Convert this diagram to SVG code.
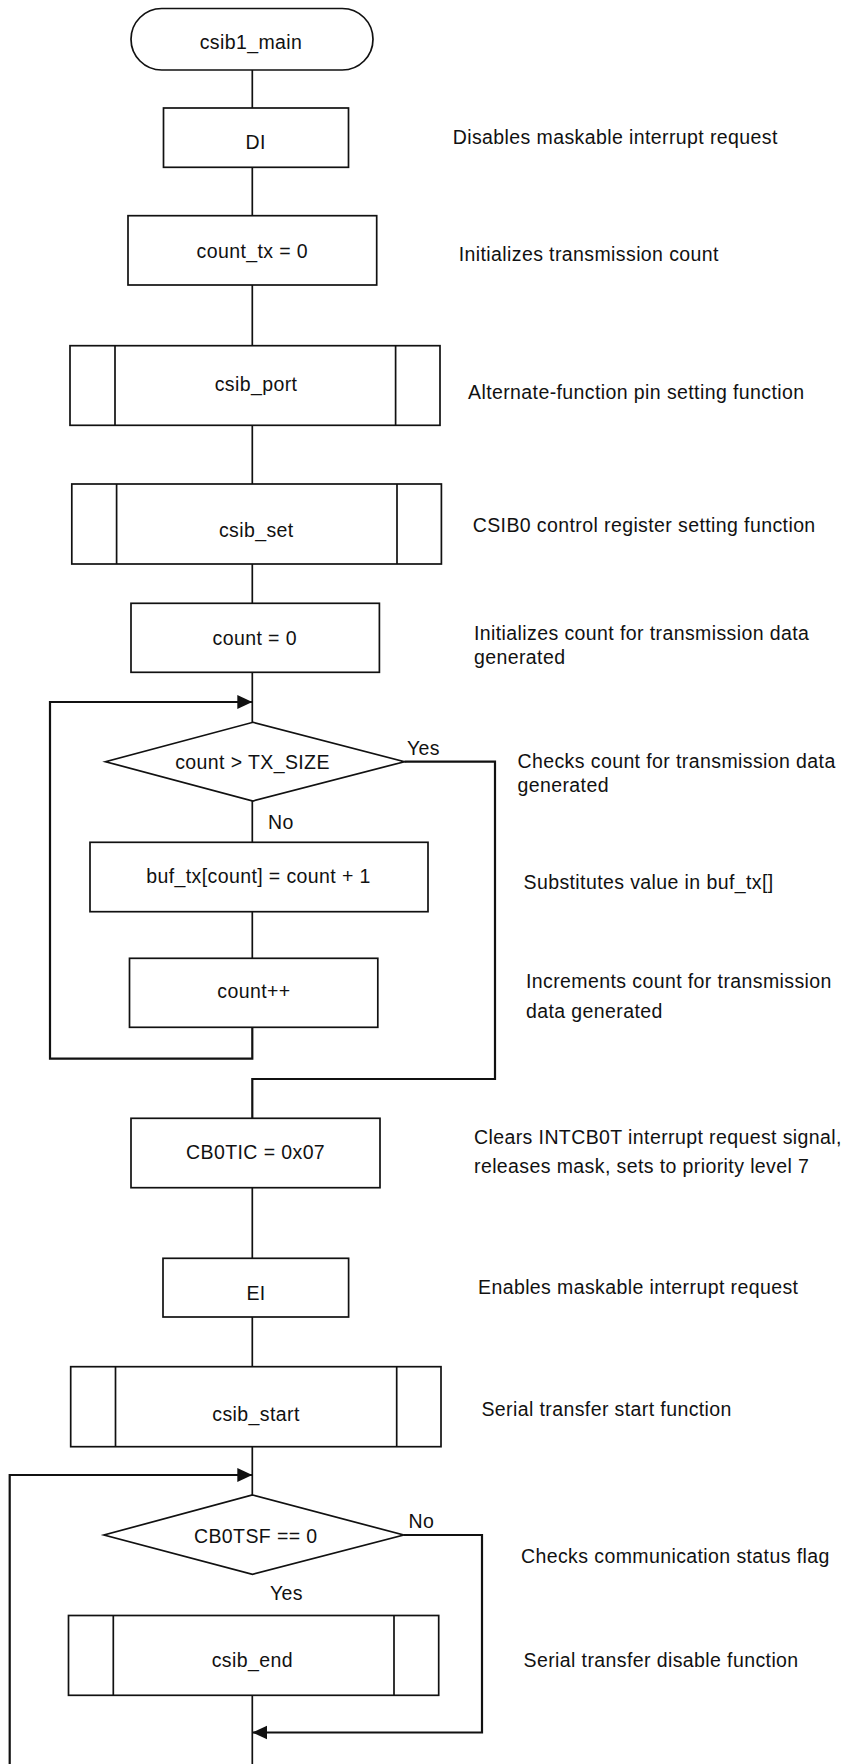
<svg xmlns="http://www.w3.org/2000/svg" width="843" height="1764" viewBox="0 0 843 1764">
<style>
.s{fill:#fff;stroke:#111;stroke-width:1.7}
.t{font-family:"Liberation Sans",Arial,Helvetica,sans-serif;font-size:19.5px;letter-spacing:0.4px;fill:#111}
.m{text-anchor:middle}
.c{fill:none;stroke:#111;stroke-width:1.7}
.l{fill:none;stroke:#111;stroke-width:2.2}
</style>
<defs>
<marker id="ah" markerUnits="userSpaceOnUse" markerWidth="16" markerHeight="16" refX="15" refY="7" orient="auto">
<path d="M0,0 L15,7 L0,14 z" fill="#111"/>
</marker>
</defs>
<rect width="843" height="1764" fill="#fff"/>
<g id="connectors">
<path class="c" d="M252.3,70 V108"/>
<path class="c" d="M252.3,167.3 V215.7"/>
<path class="c" d="M252.3,285 V345.7"/>
<path class="c" d="M252.3,425.3 V484"/>
<path class="c" d="M252.3,564 V603.3"/>
<path class="c" d="M252.3,672.3 V722.3"/>
<path class="c" d="M252.3,801 V842.3"/>
<path class="c" d="M252.3,911.7 V958.3"/>
<path class="l" d="M252.3,1027.3 V1058.7 H50 V702 H252.3" marker-end="url(#ah)"/>
<path class="l" d="M404.5,761.7 H495 V1079 H252.3 V1118.3"/>
<path class="c" d="M252.3,1187.7 V1258.3"/>
<path class="c" d="M252.3,1317 V1366.7"/>
<path class="c" d="M252.3,1446.7 V1495"/>
<path class="l" d="M9.7,1764 V1475 H252.3" marker-end="url(#ah)"/>
<path class="l" d="M403.7,1535 H482 V1732.5 H252.3" marker-end="url(#ah)"/>
<path class="c" d="M252.3,1695.3 V1764"/>
<text class="t" x="407" y="754.5">Yes</text>
<text class="t" x="268" y="829">No</text>
<text class="t" x="408.5" y="1527.5">No</text>
<text class="t" x="270" y="1600">Yes</text>
</g>
<g id="start">
<rect class="s" x="131" y="8.5" width="242" height="61.5" rx="30.75"/>
<text class="t m" x="251" y="49.3">csib1_main</text>
</g>
<g id="di">
<rect class="s" x="163.5" y="108" width="185" height="59.3"/>
<text class="t m" x="255.7" y="149.3">DI</text>
<text class="t" x="452.7" y="143.5">Disables maskable interrupt request</text>
</g>
<g id="count_tx">
<rect class="s" x="128" y="215.7" width="248.7" height="69.3"/>
<text class="t m" x="252.3" y="257.5">count_tx = 0</text>
<text class="t" x="458.7" y="260.5">Initializes transmission count</text>
</g>
<g id="csib_port">
<rect class="s" x="70" y="345.7" width="370" height="79.6"/>
<path class="c" d="M115,345.7 V425.3 M395.6,345.7 V425.3"/>
<text class="t m" x="256" y="391">csib_port</text>
<text class="t" x="468" y="398.5">Alternate-function pin setting function</text>
</g>
<g id="csib_set">
<rect class="s" x="71.8" y="484" width="369.6" height="80"/>
<path class="c" d="M116.6,484 V564 M397,484 V564"/>
<text class="t m" x="256.3" y="537">csib_set</text>
<text class="t" x="472.7" y="532.3">CSIB0 control register setting function</text>
</g>
<g id="count0">
<rect class="s" x="131" y="603.3" width="248.4" height="69"/>
<text class="t m" x="254.7" y="645">count = 0</text>
<text class="t" x="474" y="639.5">Initializes count for transmission data</text>
<text class="t" x="474" y="664">generated</text>
</g>
<g id="check_count">
<polygon class="s" points="253,722.3 404.5,761.7 253,801 105.5,761.7"/>
<text class="t m" x="252.5" y="769">count &gt; TX_SIZE</text>
<text class="t" x="517.5" y="767.5">Checks count for transmission data</text>
<text class="t" x="517.5" y="792">generated</text>
</g>
<g id="buf_tx">
<rect class="s" x="90" y="842.3" width="338" height="69.4"/>
<text class="t m" x="258.5" y="883">buf_tx[count] = count + 1</text>
<text class="t" x="523.5" y="889">Substitutes value in buf_tx[]</text>
</g>
<g id="count_inc">
<rect class="s" x="129.5" y="958.3" width="248.3" height="69"/>
<text class="t m" x="254" y="998">count++</text>
<text class="t" x="526" y="988">Increments count for transmission</text>
<text class="t" x="526" y="1018">data generated</text>
</g>
<g id="cb0tic">
<rect class="s" x="131" y="1118.3" width="249" height="69.4"/>
<text class="t m" x="255.6" y="1159">CB0TIC = 0x07</text>
<text class="t" x="474" y="1144">Clears INTCB0T interrupt request signal,</text>
<text class="t" x="474" y="1173">releases mask, sets to priority level 7</text>
</g>
<g id="ei">
<rect class="s" x="163" y="1258.3" width="185.6" height="58.7"/>
<text class="t m" x="256" y="1300">EI</text>
<text class="t" x="478" y="1294">Enables maskable interrupt request</text>
</g>
<g id="csib_start">
<rect class="s" x="70.7" y="1366.7" width="370.3" height="80"/>
<path class="c" d="M115.5,1366.7 V1446.7 M396.7,1366.7 V1446.7"/>
<text class="t m" x="256" y="1421">csib_start</text>
<text class="t" x="481.4" y="1416">Serial transfer start function</text>
</g>
<g id="check_tsf">
<polygon class="s" points="252.5,1495 403.7,1535 252.5,1574.3 104,1535"/>
<text class="t m" x="255.8" y="1542.5">CB0TSF == 0</text>
<text class="t" x="521" y="1563">Checks communication status flag</text>
</g>
<g id="csib_end">
<rect class="s" x="68.5" y="1615.5" width="370.2" height="79.8"/>
<path class="c" d="M113.3,1615.5 V1695.3 M394,1615.5 V1695.3"/>
<text class="t m" x="252.3" y="1667">csib_end</text>
<text class="t" x="523.5" y="1667">Serial transfer disable function</text>
</g>
</svg>
